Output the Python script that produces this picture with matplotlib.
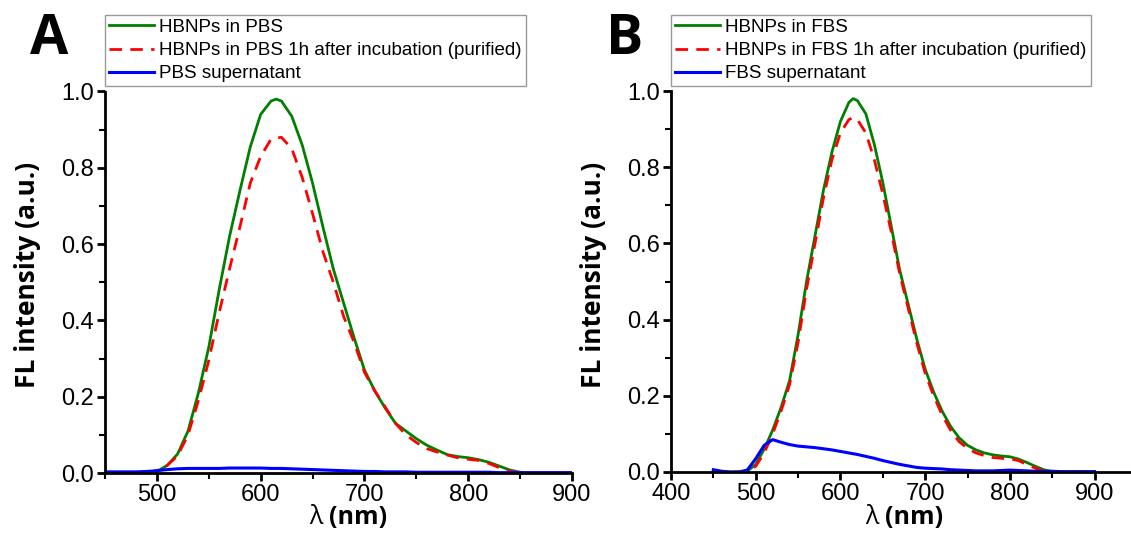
import matplotlib
matplotlib.use("Agg")
import matplotlib.pyplot as plt
from matplotlib.ticker import MultipleLocator

# wavelengths (nm) and intensities
wl = [450, 460, 470, 480, 490, 500, 510, 520, 530, 540, 550, 560, 570, 580, 590,
      600, 610, 615, 620, 630, 640, 650, 660, 670, 680, 690, 700, 710, 720, 730,
      740, 750, 760, 770, 780, 790, 800, 810, 820, 830, 840, 850, 860, 870, 880,
      890, 900]

pbs_np = [0, 0, 0, 0, 0.001, 0.004, 0.02, 0.05, 0.11, 0.21, 0.33, 0.48, 0.62, 0.74, 0.855,
          0.94, 0.975, 0.98, 0.975, 0.935, 0.86, 0.76, 0.645, 0.535, 0.445, 0.355, 0.27, 0.215, 0.17, 0.13,
          0.11, 0.09, 0.073, 0.06, 0.048, 0.043, 0.04, 0.035, 0.028, 0.018, 0.008, 0.002, 0, 0, 0,
          0, 0]
pbs_purified = [0, 0, 0, 0, 0.001, 0.006, 0.02, 0.045, 0.10, 0.19, 0.295, 0.42, 0.535, 0.645, 0.76,
                0.83, 0.875, 0.878, 0.88, 0.85, 0.775, 0.68, 0.58, 0.50, 0.41, 0.343, 0.264, 0.215, 0.173, 0.13,
                0.10, 0.08, 0.064, 0.055, 0.047, 0.04, 0.036, 0.033, 0.025, 0.014, 0.005, 0, 0, 0, 0,
                0, 0]
pbs_super = [0.003, 0.003, 0.003, 0.003, 0.004, 0.006, 0.009, 0.011, 0.012, 0.012, 0.012, 0.012, 0.013, 0.013, 0.013,
             0.013, 0.012, 0.012, 0.012, 0.011, 0.010, 0.009, 0.008, 0.007, 0.006, 0.005, 0.004, 0.004, 0.003, 0.003,
             0.003, 0.002, 0.002, 0.002, 0.002, 0.002, 0.002, 0.002, 0.002, 0.001, 0.001, 0.001, 0.001, 0.001, 0.001,
             0.001, 0.001]

fbs_np = [0, 0, 0, 0, 0.002, 0.02, 0.06, 0.11, 0.17, 0.24, 0.36, 0.50, 0.62, 0.74, 0.84,
          0.92, 0.97, 0.98, 0.975, 0.94, 0.86, 0.76, 0.645, 0.53, 0.44, 0.35, 0.27, 0.21, 0.16, 0.12,
          0.09, 0.07, 0.058, 0.05, 0.045, 0.042, 0.04, 0.034, 0.025, 0.015, 0.006, 0.001, 0, 0, 0,
          0, 0]
fbs_purified = [0, 0, 0, 0, 0.001, 0.015, 0.05, 0.10, 0.16, 0.23, 0.34, 0.48, 0.60, 0.72, 0.82,
                0.89, 0.925, 0.93, 0.925, 0.89, 0.82, 0.73, 0.63, 0.52, 0.43, 0.34, 0.26, 0.20, 0.15, 0.11,
                0.08, 0.062, 0.05, 0.043, 0.038, 0.036, 0.035, 0.03, 0.02, 0.01, 0.003, 0, 0, 0, 0,
                0, 0]
fbs_super = [0.006, 0.002, 0.0, 0.0, 0.005, 0.035, 0.07, 0.085, 0.078, 0.072, 0.068, 0.066, 0.064, 0.061, 0.058,
             0.054, 0.05, 0.048, 0.046, 0.041, 0.036, 0.03, 0.025, 0.02, 0.016, 0.012, 0.010, 0.009, 0.008, 0.006,
             0.005, 0.004, 0.003, 0.003, 0.003, 0.004, 0.005, 0.004, 0.003, 0.002, 0.002, 0.002, 0.001, 0.001, 0.001,
             0.001, 0.001]

panels = [
    ("A", ["HBNPs in PBS", "HBNPs in PBS 1h after incubation (purified)", "PBS supernatant"],
     [pbs_np, pbs_purified, pbs_super], (450, 900)),
    ("B", ["HBNPs in FBS", "HBNPs in FBS 1h after incubation (purified)", "FBS supernatant"],
     [fbs_np, fbs_purified, fbs_super], (400, 943)),
]

W, H = 1131, 538
fig = plt.figure(figsize=(W / 100, H / 100), dpi=100)

# axes boxes in pixels: left, right, top(y=1), bottom(y=0)
boxes = [(105, 572, 91.5, 473), (671, 1131, 91, 472)]
ylab_x = [28, 593]
letter_x = [30, 606]
xlab_x = [329, 885]

for (letter, labels, series, xlim), (l, r, t, b), yx, lx, xx in zip(panels, boxes, ylab_x, letter_x, xlab_x):
    ax = fig.add_axes([l / W, 1 - b / H, (r - l) / W, (b - t) / H])
    ax.plot(wl, series[0], color="#008000", lw=2.0, label=labels[0])
    ax.plot(wl, series[1], color="#ff0000", lw=2.0, ls=(0, (4.5, 3)), label=labels[1])
    ax.plot(wl, series[2], color="#0000ff", lw=2.2, label=labels[2])
    ax.set_xlim(*xlim)
    ax.set_ylim(0, 1.0)
    for s in ["top", "right"]:
        ax.spines[s].set_visible(False)
    for s in ["left", "bottom"]:
        ax.spines[s].set_linewidth(2.0)
    ax.xaxis.set_major_locator(MultipleLocator(100))
    ax.xaxis.set_minor_locator(MultipleLocator(50))
    ax.yaxis.set_major_locator(MultipleLocator(0.2))
    ax.yaxis.set_minor_locator(MultipleLocator(0.1))
    ax.yaxis.set_major_formatter(plt.FormatStrFormatter("%.1f"))
    ax.tick_params(which="major", length=6, width=2.0, labelsize=17, pad=2,
                   labelfontfamily="Liberation Sans")
    ax.tick_params(which="minor", length=4, width=1.5)
    ax.patch.set_alpha(0)

    leg = ax.legend(loc="upper left", bbox_to_anchor=(l / W, 1 - 15 / H),
                    bbox_transform=fig.transFigure,
                    prop={"family": "Liberation Sans", "size": 13.5},
                    frameon=True, fancybox=False, handlelength=2.4,
                    handletextpad=0.3, labelspacing=0.33, borderpad=0.2,
                    borderaxespad=0)
    leg.get_frame().set_edgecolor("#808080")
    leg.get_frame().set_linewidth(1.0)

    fig.text(yx / W, 1 - 275 / H, "FL intensity (a.u.)", rotation=90, ha="center",
             va="center", family="Open Sans", weight="bold", fontsize=19)
    fig.text((xx - 6) / W, 1 - 518 / H, "λ", ha="right", va="center",
             family="Open Sans", fontsize=18)
    fig.text(xx / W, 1 - 518 / H, "(nm)", ha="left", va="center",
             family="Open Sans", weight="bold", fontsize=18)
    fig.text(lx / W, 1 - 40 / H, letter, ha="left", va="center",
             family="Open Sans", weight="bold", fontsize=40)

fig.savefig("out.png", dpi=100)
